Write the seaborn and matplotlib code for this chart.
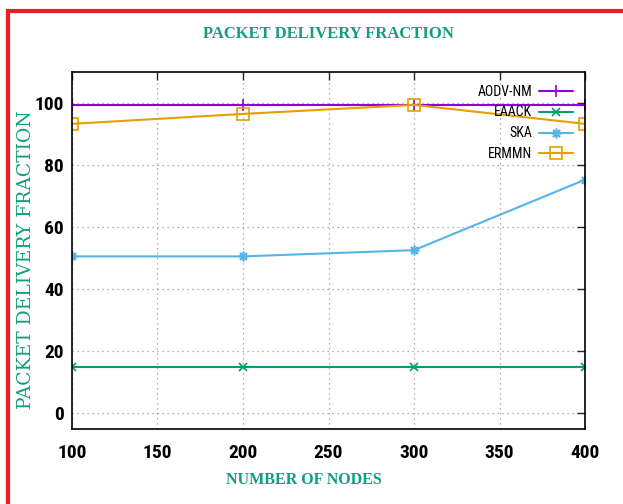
import matplotlib
matplotlib.use("Agg")
import matplotlib.pyplot as plt
from matplotlib.patches import Rectangle
import seaborn as sns
import pandas as pd
import matplotlib.font_manager as fm

nodes = [100, 200, 300, 400]
aodv_nm = [99.4, 99.4, 99.4, 99.4]
eaack = [15.0, 15.0, 15.0, 15.0]
ska = [50.6, 50.6, 52.6, 75.3]
ermmn = [93.3, 96.5, 99.4, 93.3]

series_names = ["AODV-NM", "EAACK", "SKA", "ERMMN"]
series_vals = [aodv_nm, eaack, ska, ermmn]
colors = {"AODV-NM": "#9400d3", "EAACK": "#009e73", "SKA": "#56b4e9", "ERMMN": "#e69f00"}
markers = {"AODV-NM": "+", "EAACK": "x", "SKA": (8, 2, 0), "ERMMN": "s"}
msizes = {"AODV-NM": 9, "EAACK": 6, "SKA": 7, "ERMMN": 8}

title_text = "PACKET DELIVERY FRACTION"
xlabel_text = "NUMBER OF NODES"
ylabel_text = "PACKET DELIVERY FRACTION"
xticks = [100, 150, 200, 250, 300, 350, 400]
yticks = [0, 20, 40, 60, 80, 100]

rows = []
for name, vals in zip(series_names, series_vals):
    for n, v in zip(nodes, vals):
        rows.append({"nodes": n, "pdf": v, "series": name})
df = pd.DataFrame(rows)

sns.set_style("white")
avail = {f.name for f in fm.fontManager.ttflist}
def pick(*names):
    for n in names:
        if n in avail:
            return n
    return "DejaVu Sans"
narrow = pick("Liberation Sans Narrow", "Roboto Condensed", "Open Sans Condensed",
              "DejaVu Sans Condensed", "Liberation Sans")
serif = pick("Liberation Serif", "DejaVu Serif")
plt.rcParams["font.family"] = ["DejaVu Sans"]

fig = plt.figure(figsize=(6.23, 5.04), dpi=100)
ax = fig.add_axes([72/623, 1 - 429/504, (585-72)/623, (429-72)/504])

green = "#119e78"
for name in series_names:
    sub = df[df["series"] == name]
    kw = dict(marker=markers[name], markersize=msizes[name], markeredgewidth=1.2,
              markeredgecolor=colors[name])
    if name == "ERMMN":
        kw.update(markerfacecolor="none")
    sns.lineplot(data=sub, x="nodes", y="pdf", ax=ax, color=colors[name],
                 lw=1.5, label=name, **kw)

ax.set_xlim(100, 400)
ax.set_ylim(-5, 110)
ax.set_xticks(xticks)
ax.set_yticks(yticks)
ax.set_xlabel("")
ax.set_ylabel("")
ax.grid(True, ls=(0, (1, 3)), color="#999999", lw=0.9)
ax.tick_params(direction="in", top=True, right=True, length=6, width=1)
ax.tick_params(axis="x", pad=11)
ax.tick_params(axis="y", pad=6)
for sp in ax.spines.values():
    sp.set_linewidth(1.2)
    sp.set_color("black")
for lab in ax.get_xticklabels() + ax.get_yticklabels():
    lab.set_family(narrow)
    lab.set_fontweight("bold")
    lab.set_fontsize(14)
    lab.set_color("black")

fig.text(304/623, 1 - 480/504, xlabel_text, family=serif,
         fontsize=11.5, fontweight="bold", color=green, ha="center", va="center")
fig.text(26/623, 1 - 260/504, ylabel_text, family="DejaVu Serif", rotation=90,
         fontsize=13.5, color=green, ha="center", va="center")
fig.text(328/623, 1 - 34/504, title_text, family=serif,
         fontsize=12, fontweight="bold", color=green, ha="center", va="center")

leg = ax.legend(loc="upper right", markerfirst=False, frameon=False,
                fontsize=10, handlelength=2.4, labelspacing=0.5,
                borderaxespad=0.5, handletextpad=0.5)
for t in leg.get_texts():
    t.set_family(narrow)
    t.set_color("black")

fig.patches.append(Rectangle((8/623, -0.02), 1.2, 1 - 11/504 + 0.02,
                             transform=fig.transFigure, fill=False,
                             edgecolor="#ee1c25", lw=3))

fig.savefig("out.png", dpi=100)
